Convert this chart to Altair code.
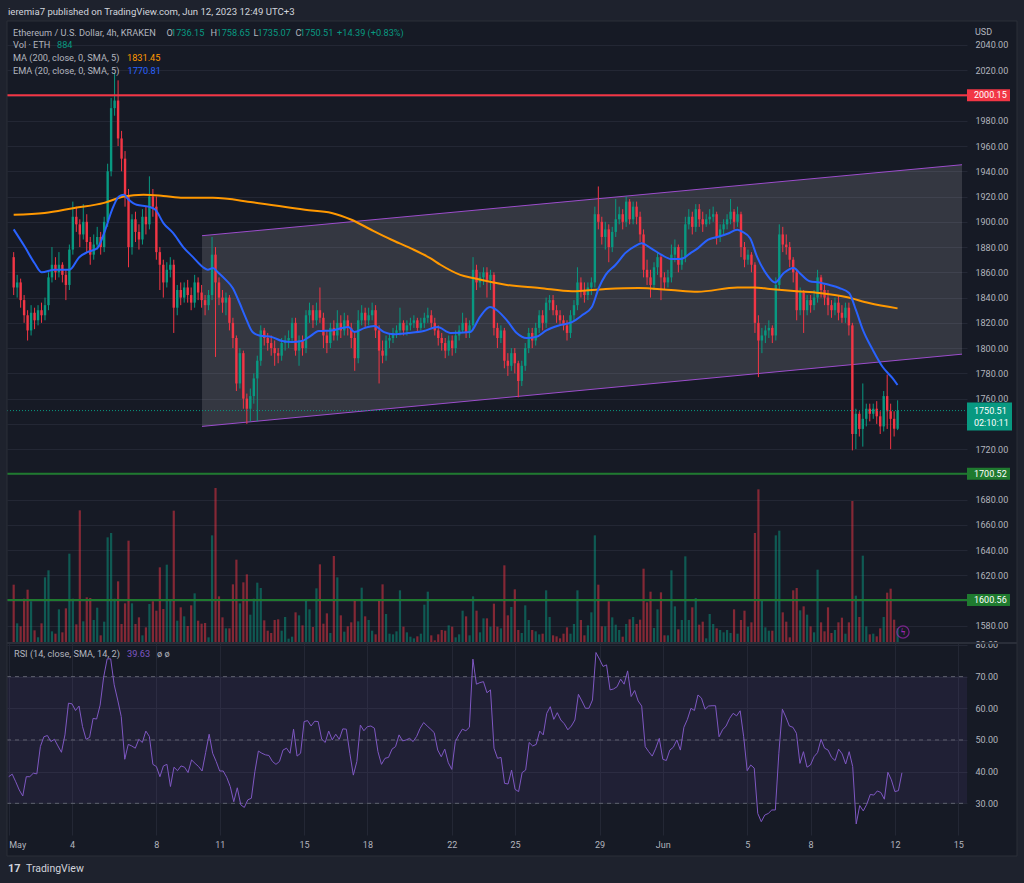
import altair as alt
import pandas as pd

# ---------------- data ----------------
first_open = 1872.0
close = [
    1848, 1852, 1838, 1826, 1814, 1828, 1822, 1830, 1826, 1834,
    1856, 1866, 1860, 1866, 1858, 1850, 1878, 1904, 1898, 1890,
    1900, 1884, 1874, 1882, 1888, 1880, 1900, 1940, 1990, 1996,
    1966, 1950, 1920, 1880, 1902, 1892, 1886, 1904, 1898, 1920,
    1912, 1876, 1866, 1852, 1862, 1866, 1832, 1846, 1840, 1848,
    1842, 1836, 1852, 1844, 1838, 1834, 1842, 1874, 1852, 1840,
    1836, 1840, 1820, 1808, 1772, 1796, 1760, 1752, 1762, 1776,
    1790, 1814, 1808, 1804, 1800, 1796, 1794, 1804, 1806, 1808,
    1820, 1798, 1806, 1800, 1826, 1830, 1822, 1830, 1824, 1810,
    1804, 1816, 1810, 1820, 1814, 1822, 1816, 1808, 1792, 1822,
    1828, 1822, 1826, 1830, 1814, 1798, 1794, 1806, 1808, 1812,
    1814, 1820, 1814, 1818, 1820, 1822, 1816, 1820, 1824, 1826,
    1820, 1814, 1808, 1804, 1798, 1806, 1800, 1810, 1814, 1820,
    1812, 1818, 1862, 1852, 1856, 1860, 1854, 1858, 1816, 1808,
    1814, 1790, 1786, 1796, 1788, 1774, 1786, 1800, 1812, 1806,
    1816, 1826, 1820, 1836, 1838, 1830, 1826, 1822, 1818, 1812,
    1826, 1834, 1852, 1846, 1842, 1848, 1852, 1906, 1900, 1888,
    1894, 1880, 1892, 1902, 1906, 1900, 1916, 1902, 1912, 1904,
    1890, 1862, 1856, 1850, 1864, 1872, 1856, 1852, 1856, 1874,
    1880, 1866, 1872, 1898, 1904, 1896, 1910, 1902, 1898, 1902,
    1904, 1906, 1888, 1894, 1898, 1902, 1908, 1900, 1906, 1880,
    1870, 1874, 1866, 1820, 1806, 1810, 1814, 1816, 1810, 1850,
    1890, 1882, 1880, 1870, 1860, 1830, 1844, 1830, 1838, 1834,
    1840, 1856, 1846, 1840, 1834, 1830, 1836, 1828, 1824, 1832,
    1818, 1732, 1748, 1736, 1744, 1752, 1748, 1752, 1746, 1738,
    1762, 1750, 1744, 1736.15, 1750.51,
]
high = [
    1876, 1858, 1855, 1842, 1830, 1834, 1832, 1834, 1836, 1840,
    1860, 1880, 1872, 1876, 1868, 1862, 1882, 1916, 1912, 1902,
    1914, 1906, 1888, 1890, 1896, 1892, 1904, 1946, 1998, 2018,
    2012, 1972, 1956, 1926, 1906, 1908, 1898, 1910, 1912, 1936,
    1926, 1920, 1880, 1870, 1868, 1872, 1870, 1850, 1852, 1852,
    1854, 1848, 1858, 1856, 1850, 1842, 1846, 1888, 1880, 1856,
    1846, 1844, 1842, 1824, 1810, 1800, 1798, 1764, 1768, 1780,
    1794, 1818, 1816, 1812, 1810, 1806, 1800, 1808, 1810, 1814,
    1824, 1824, 1810, 1810, 1830, 1836, 1834, 1836, 1848, 1828,
    1814, 1820, 1822, 1830, 1826, 1828, 1826, 1820, 1812, 1830,
    1834, 1832, 1832, 1836, 1834, 1818, 1806, 1810, 1812, 1816,
    1818, 1832, 1822, 1822, 1824, 1826, 1824, 1824, 1828, 1832,
    1830, 1824, 1818, 1812, 1808, 1810, 1810, 1814, 1818, 1828,
    1824, 1822, 1872, 1866, 1860, 1864, 1864, 1862, 1860, 1820,
    1818, 1816, 1796, 1800, 1800, 1790, 1790, 1804, 1816, 1816,
    1820, 1830, 1830, 1840, 1842, 1842, 1834, 1830, 1826, 1822,
    1830, 1838, 1864, 1856, 1852, 1852, 1856, 1912, 1928, 1904,
    1900, 1898, 1896, 1918, 1912, 1910, 1920, 1918, 1916, 1916,
    1908, 1894, 1870, 1862, 1868, 1876, 1874, 1860, 1862, 1882,
    1886, 1882, 1878, 1904, 1910, 1908, 1914, 1914, 1908, 1906,
    1910, 1912, 1908, 1898, 1902, 1906, 1918, 1910, 1912, 1908,
    1884, 1878, 1876, 1868, 1826, 1816, 1818, 1822, 1818, 1856,
    1898, 1896, 1890, 1884, 1872, 1862, 1848, 1846, 1842, 1842,
    1846, 1862, 1858, 1850, 1846, 1838, 1840, 1842, 1834, 1836,
    1836, 1820, 1752, 1750, 1772, 1756, 1756, 1756, 1758, 1750,
    1766, 1779, 1756, 1750, 1758.65,
]
low = [
    1842, 1840, 1832, 1820, 1806, 1810, 1815, 1818, 1820, 1822,
    1830, 1852, 1854, 1856, 1852, 1838, 1846, 1874, 1892, 1880,
    1886, 1876, 1866, 1870, 1878, 1874, 1876, 1896, 1936, 1984,
    1960, 1940, 1912, 1864, 1874, 1884, 1878, 1882, 1890, 1894,
    1904, 1870, 1846, 1840, 1848, 1856, 1812, 1826, 1834, 1836,
    1836, 1830, 1832, 1838, 1832, 1826, 1830, 1838, 1793, 1834,
    1828, 1826, 1814, 1800, 1766, 1768, 1752, 1740, 1742, 1756,
    1742, 1786, 1802, 1798, 1794, 1786, 1788, 1790, 1798, 1800,
    1804, 1794, 1786, 1794, 1796, 1820, 1816, 1818, 1820, 1800,
    1796, 1800, 1806, 1806, 1808, 1810, 1810, 1800, 1782, 1788,
    1818, 1816, 1818, 1822, 1808, 1772, 1788, 1790, 1800, 1804,
    1808, 1810, 1810, 1810, 1814, 1816, 1812, 1814, 1816, 1820,
    1816, 1810, 1802, 1798, 1792, 1794, 1794, 1796, 1806, 1812,
    1808, 1808, 1814, 1846, 1848, 1850, 1840, 1846, 1810, 1800,
    1804, 1784, 1778, 1782, 1780, 1761, 1770, 1782, 1796, 1800,
    1802, 1812, 1814, 1816, 1830, 1826, 1820, 1818, 1814, 1806,
    1808, 1822, 1830, 1840, 1836, 1838, 1842, 1848, 1894, 1882,
    1878, 1868, 1876, 1888, 1898, 1894, 1896, 1898, 1898, 1898,
    1884, 1856, 1850, 1840, 1846, 1858, 1838, 1846, 1848, 1852,
    1868, 1860, 1862, 1868, 1894, 1890, 1892, 1896, 1892, 1896,
    1898, 1900, 1882, 1884, 1890, 1894, 1898, 1894, 1896, 1872,
    1864, 1866, 1860, 1812, 1777, 1796, 1804, 1808, 1804, 1806,
    1846, 1876, 1874, 1864, 1852, 1822, 1826, 1812, 1826, 1828,
    1830, 1836, 1840, 1834, 1826, 1824, 1826, 1822, 1820, 1820,
    1810, 1719, 1720, 1730, 1722, 1738, 1742, 1744, 1740, 1732,
    1734, 1736, 1720, 1730, 1735.07,
]
volume = [
    3500, 1180, 1000, 2660, 3200, 2500, 760, 340, 1180, 3940,
    4360, 700, 560, 2020, 640, 2080, 5360, 2660, 1120, 7960,
    1300, 2740, 2700, 1380, 2120, 460, 1280, 6340, 6600, 2660,
    3700, 1140, 2380, 6140, 2380, 1140, 1540, 460, 940, 2340,
    2500, 1940, 4540, 2040, 4700, 2600, 7940, 1340, 2140, 1600,
    1020, 2260, 2980, 1340, 1160, 1200, 340, 6460, 9300, 2800,
    1540, 880, 880, 3520, 5000, 2380, 3640, 4120, 1700, 2660,
    3620, 3300, 1360, 740, 600, 1380, 1420, 740, 1560, 260,
    380, 1840, 1660, 1060, 2520, 2020, 960, 3280, 4720, 1160,
    1780, 600, 5220, 3940, 1660, 680, 1000, 1240, 2520, 1300,
    3320, 1600, 1380, 740, 520, 2560, 3520, 1740, 560, 520,
    700, 3160, 980, 640, 380, 280, 400, 560, 2300, 3080,
    460, 160, 520, 780, 740, 1060, 980, 340, 520, 1940,
    1600, 460, 2800, 1940, 640, 1480, 1480, 980, 2360, 980,
    880, 4660, 1660, 2160, 3220, 780, 600, 2260, 1380, 780,
    700, 520, 560, 3160, 1560, 460, 400, 280, 560, 940,
    560, 1140, 3160, 1380, 460, 1060, 1840, 6460, 3500, 1000,
    1000, 2500, 1540, 1100, 780, 380, 1140, 1420, 1560, 1140,
    1400, 4460, 2440, 3080, 900, 2020, 3040, 460, 460, 4360,
    2200, 820, 1380, 5200, 1380, 2140, 2700, 1100, 1280, 280,
    1740, 1140, 880, 780, 640, 780, 600, 2020, 560, 1380,
    1940, 980, 1240, 6600, 9220, 2520, 940, 740, 740, 6460,
    6740, 1840, 1280, 340, 3160, 3300, 1960, 2200, 1700, 1000,
    640, 4400, 1240, 700, 2140, 600, 780, 1240, 1520, 560,
    1240, 8520, 2840, 1560, 5240, 1000, 520, 560, 400, 880,
    1560, 3020, 3260, 1400, 884,
]
rsi = [
    38.4, 39.2, 36.8, 34.2, 32.3, 38.4, 38.4, 39.5, 39.3, 47.9,
    51.0, 51.4, 49.5, 50.2, 48.1, 46.1, 51.6, 61.6, 61.4, 59.3,
    60.7, 54.2, 50.2, 50.8, 56.8, 56.6, 61.0, 69.8, 75.6, 75.6,
    67.4, 62.6, 57.4, 43.9, 48.6, 48.1, 47.4, 50.2, 49.2, 52.8,
    51.1, 42.3, 41.6, 38.4, 41.8, 42.3, 35.3, 41.4, 40.3, 41.8,
    41.4, 39.7, 43.7, 42.6, 41.6, 40.2, 46.0, 51.8, 45.8, 43.2,
    40.2, 40.2, 38.2, 35.3, 30.5, 34.9, 29.5, 28.7, 31.1, 31.6,
    40.0, 46.5, 45.8, 45.3, 45.1, 43.2, 42.3, 43.2, 46.8, 47.4,
    45.8, 53.4, 44.9, 45.8, 55.8, 56.1, 54.4, 55.9, 55.8, 50.3,
    49.2, 52.8, 50.0, 51.8, 50.2, 53.5, 53.4, 45.8, 38.9, 43.2,
    54.7, 52.9, 54.2, 54.4, 53.7, 46.3, 42.3, 44.2, 44.5, 47.1,
    47.9, 51.6, 49.7, 50.0, 50.5, 49.5, 51.1, 53.7, 55.5, 54.4,
    53.4, 52.3, 46.8, 44.7, 47.1, 42.8, 40.7, 49.5, 51.6, 53.4,
    52.9, 54.0, 75.5, 67.6, 68.1, 68.4, 64.9, 65.8, 47.4, 44.2,
    44.5, 36.3, 36.1, 40.5, 34.4, 33.7, 39.7, 40.5, 49.2, 48.1,
    48.6, 52.8, 51.6, 58.4, 60.5, 56.5, 58.6, 56.3, 55.1, 53.2,
    54.4, 56.3, 64.4, 62.3, 60.0, 60.0, 62.6, 77.6, 75.5, 73.2,
    73.7, 65.8, 66.1, 66.8, 69.2, 67.6, 71.8, 63.7, 65.6, 62.3,
    60.7, 47.9, 46.3, 44.9, 47.4, 50.5, 43.9, 43.5, 46.8, 47.7,
    50.0, 46.8, 54.0, 56.5, 60.0, 59.3, 64.2, 63.2, 59.7, 60.7,
    60.8, 60.8, 51.0, 53.2, 54.4, 56.8, 58.4, 57.6, 59.2, 51.0,
    40.3, 42.1, 41.1, 26.8, 24.2, 26.3, 26.8, 27.9, 27.9, 45.8,
    59.7, 57.2, 54.4, 54.0, 52.1, 42.6, 46.3, 41.4, 42.1, 44.7,
    46.0, 50.2, 47.4, 46.8, 44.5, 43.5, 47.1, 45.6, 42.4, 46.3,
    41.6, 23.5, 29.3, 27.6, 29.7, 32.8, 32.6, 33.9, 33.4, 31.3,
    39.8, 37.4, 33.7, 34.0, 39.63,
]

ma200_day = [0.0, 1.48, 2.9, 4.33, 5.27, 6.22, 7.17, 8.12, 9.54, 11.44, 13.95,
             15.23, 16.18, 17.12, 18.07, 19.02, 19.97, 20.44, 21.39, 22.0, 23.62,
             25.18, 26.74, 28.35, 29.92, 31.48, 32.76, 34.66, 35.46, 36.22, 37.5,
             38.59, 39.87, 40.96, 42.33]
ma200_val = [1905.6, 1907.0, 1911.0, 1915.0, 1920.0, 1921.5, 1920.5, 1919.0, 1919.0,
             1915.5, 1909.5, 1907.0, 1901.6, 1893.7, 1886.0, 1879.0, 1871.0, 1866.0,
             1858.0, 1855.5, 1850.0, 1847.6, 1845.0, 1846.8, 1847.6, 1846.0, 1844.6,
             1848.0, 1848.0, 1846.8, 1845.0, 1843.6, 1840.5, 1835.7, 1831.45]

ema20_day = [0.0, 0.54, 1.01, 1.34, 1.96, 2.67, 3.14, 3.53, 4.0, 4.33, 4.71, 5.04,
             5.27, 5.51, 5.89, 6.46, 6.79, 7.17, 7.64, 8.12, 8.59, 9.07, 9.3, 9.54,
             9.78, 10.16, 10.49, 10.82, 11.1, 11.44, 11.77, 12.38, 12.86, 13.33, 13.8,
             14.14, 14.61, 15.23, 16.03, 16.32, 16.79, 17.27, 17.74, 18.21, 18.88,
             19.64, 20.3, 20.92, 21.86, 22.34, 22.81, 23.14, 23.62, 24.09, 24.56,
             25.04, 25.51, 26.13, 26.74, 27.22, 27.69, 28.02, 28.35, 28.83, 29.3,
             29.78, 30.06, 30.53, 31.01, 31.48, 31.96, 32.43, 32.76, 33.24, 33.71,
             34.18, 34.66, 34.9, 35.27, 35.61, 36.08, 36.46, 36.88, 37.36, 37.64,
             38.12, 38.59, 39.07, 39.54, 40.01, 40.34, 40.68, 41.15, 41.62, 42.1, 42.33]
ema20_val = [1894, 1880, 1867, 1860, 1862, 1862, 1872, 1876, 1879, 1891, 1909.5, 1920,
             1921.4, 1917.5, 1913.5, 1912, 1909.5, 1899, 1891, 1880, 1872, 1864, 1862,
             1863.5, 1860, 1854, 1847.6, 1835.7, 1824.6, 1812.7, 1810, 1808.7, 1805.6,
             1804.8, 1805.6, 1808.7, 1813.5, 1814, 1816.7, 1812.7, 1815.8, 1817.5,
             1812.7, 1811, 1811.9, 1813.5, 1816.7, 1812, 1812.7, 1825, 1832.5, 1830,
             1822, 1812, 1808, 1809, 1814, 1818, 1820.6, 1826, 1832.5, 1847.6, 1858,
             1866, 1875.4, 1881, 1883, 1879, 1874, 1870.6, 1870.6, 1875.4, 1879,
             1885.7, 1888, 1890.5, 1893.7, 1892, 1887, 1872, 1858, 1852, 1859.5,
             1863.5, 1859.5, 1853, 1852, 1850, 1847.6, 1843.6, 1830, 1814, 1798.4,
             1785, 1776, 1770.81]

tick_days = [0, 3, 7, 10, 14, 17, 21, 24, 28, 31, 35, 38, 42, 45]
tick_labels = ["May", "4", "8", "11", "15", "18", "22", "25", "29", "Jun", "5", "8", "12", "15"]

level_prices = [2000.15, 1700.52, 1600.56]
level_colors = ["#f23645", "#1f7a2f", "#1f7a2f"]
last_price = 1750.51
countdown = "02:10:11"

channel_day = [9.02, 45.417]
channel_top = [1889.0, 1945.2]
channel_bottom = [1738.0, 1795.2]

rsi_levels = [70, 50, 30]
rsi_ticks = [30, 40, 50, 60, 70, 80]

# ---------------- styling ----------------
FONT = "Roboto"
UP, DOWN = "#089981", "#f23645"
BG, OUTER = "#161a25", "#1e222d"
GRID = "#232734"
TXT = "#b2b5be"
W, H_HEAD, H_PRICE, H_RSI = 960, 21, 622, 192
X_DOMAIN = [-0.0806, 45.417]
P_DOMAIN = [1566.5, 2059.0]
R_DOMAIN = [20.0, 80.6]
V_DOMAIN = [0, 37320]

ONE = pd.DataFrame({"k": [0]})

n = len(close)
opens = [first_open] + close[:-1]
df = pd.DataFrame({"day": [i / 6 for i in range(n)], "open": opens, "high": high,
                   "low": low, "close": close, "vol": volume, "rsi": rsi})
df["ccol"] = [UP if c >= o else DOWN for o, c in zip(df["open"], df["close"])]
df["b0"] = df[["open", "close"]].min(axis=1)
df["b1"] = df[["open", "close"]].max(axis=1)
df["b1"] = df[["b1", "b0"]].apply(lambda r: max(r["b1"], r["b0"] + 0.8), axis=1)

xs = alt.Scale(domain=X_DOMAIN, nice=False, zero=False)
ps = alt.Scale(domain=P_DOMAIN, nice=False, zero=False)
rs = alt.Scale(domain=R_DOMAIN, nice=False, zero=False)


def txt(s, x, y, color=TXT, size=9.2, align="left", weight="normal", dy=0):
    return alt.Chart(ONE).mark_text(text=s, align=align, baseline="middle", color=color,
                                    fontSize=size, font=FONT, fontWeight=weight, dy=dy
                                    ).encode(x=alt.value(x), y=alt.value(y))


def box(x0, x1, y0, y1, fill, **kw):
    return alt.Chart(ONE).mark_rect(fill=fill, **kw).encode(
        x=alt.value(x0), x2=alt.value(x1), y=alt.value(y0), y2=alt.value(y1))


# ---------------- header panel ----------------
header = alt.layer(
    box(-7, 1017, 0, H_HEAD, OUTER),
    txt("ieremia7 published on TradingView.com, Jun 12, 2023 12:49 UTC+3", 1, 12,
        color="#d1d4dc", size=9.6),
).properties(width=W, height=H_HEAD)

# ---------------- price panel ----------------
hidden = "[1600, 1700, 1740, 2000]"
price_axis = alt.Axis(orient="right", values=list(range(1580, 2041, 20)),
                      labelExpr=f"indexof({hidden}, datum.value) >= 0 ? '' : format(datum.value, '.2f')",
                      grid=True, gridColor=GRID, ticks=False, domain=False, title=None,
                      labelColor=TXT, labelFont=FONT, labelFontSize=9, labelPadding=8)
x_grid = alt.Axis(values=tick_days, grid=True, gridColor=GRID, labels=False, ticks=False,
                  domain=False, title=None)

ch = pd.DataFrame({"day": channel_day, "top": channel_top, "bot": channel_bottom})
channel_fill = alt.Chart(ch).mark_area(color="#ffffff", opacity=0.13).encode(
    x=alt.X("day:Q", scale=xs, axis=x_grid),
    y=alt.Y("top:Q", scale=ps, axis=None), y2="bot:Q")
channel_top_line = alt.Chart(ch).mark_line(color="#9c4dcc", strokeWidth=1).encode(
    x=alt.X("day:Q", scale=xs, axis=None), y=alt.Y("top:Q", scale=ps, axis=None))
channel_bot_line = alt.Chart(ch).mark_line(color="#9c4dcc", strokeWidth=1).encode(
    x=alt.X("day:Q", scale=xs, axis=None), y=alt.Y("bot:Q", scale=ps, axis=None))

vol_bars = alt.Chart(df).mark_bar(size=2.2, opacity=0.5).encode(
    x=alt.X("day:Q", scale=xs, axis=None),
    y=alt.Y("vol:Q", scale=alt.Scale(domain=V_DOMAIN), axis=None),
    color=alt.Color("ccol:N", scale=None))

wicks = alt.Chart(df).mark_rule(strokeWidth=1).encode(
    x=alt.X("day:Q", scale=xs, axis=None),
    y=alt.Y("low:Q", scale=ps, axis=price_axis), y2="high:Q",
    color=alt.Color("ccol:N", scale=None))
bodies = alt.Chart(df).mark_bar(size=2.4).encode(
    x=alt.X("day:Q", scale=xs, axis=None),
    y=alt.Y("b0:Q", scale=ps, axis=None), y2="b1:Q",
    color=alt.Color("ccol:N", scale=None))

ma_df = pd.DataFrame({"day": ma200_day, "v": ma200_val})
ema_df = pd.DataFrame({"day": ema20_day, "v": ema20_val})
ma_line = alt.Chart(ma_df).mark_line(color="#ff9800", strokeWidth=2, interpolate="monotone").encode(
    x=alt.X("day:Q", scale=xs, axis=None), y=alt.Y("v:Q", scale=ps, axis=None))
ema_line = alt.Chart(ema_df).mark_line(color="#2962ff", strokeWidth=2, interpolate="monotone").encode(
    x=alt.X("day:Q", scale=xs, axis=None), y=alt.Y("v:Q", scale=ps, axis=None))

lv = pd.DataFrame({"p": level_prices, "c": level_colors,
                   "lo": [p - 4.75 for p in level_prices], "hi": [p + 4.75 for p in level_prices],
                   "s": [f"{p:.2f}" for p in level_prices]})
level_rules = alt.Chart(lv).mark_rule(strokeWidth=2).encode(
    y=alt.Y("p:Q", scale=ps, axis=None), x=alt.value(0), x2=alt.value(W),
    color=alt.Color("c:N", scale=None))
level_boxes = alt.Chart(lv).mark_rect().encode(
    y=alt.Y("hi:Q", scale=ps, axis=None), y2="lo:Q", x=alt.value(960), x2=alt.value(1003),
    color=alt.Color("c:N", scale=None))
level_text = alt.Chart(lv).mark_text(align="left", baseline="middle", color="#ffffff",
                                     fontSize=9, font=FONT).encode(
    y=alt.Y("p:Q", scale=ps, axis=None), x=alt.value(967), text="s:N")

lp = pd.DataFrame({"p": [last_price], "hi": [last_price + 6.4], "lo": [last_price - 15.8],
                   "s": [f"{last_price:.2f}"], "cd": [countdown]})
last_rule = alt.Chart(lp).mark_rule(color=UP, strokeWidth=1, strokeDash=[1, 2]).encode(
    y=alt.Y("p:Q", scale=ps, axis=None), x=alt.value(0), x2=alt.value(W))
last_box = alt.Chart(lp).mark_rect(color=UP).encode(
    y=alt.Y("hi:Q", scale=ps, axis=None), y2="lo:Q", x=alt.value(960), x2=alt.value(1005))
last_text = alt.Chart(lp).mark_text(align="left", baseline="middle", color="#ffffff",
                                    fontSize=9, font=FONT).encode(
    y=alt.Y("p:Q", scale=ps, axis=None), x=alt.value(967), text="s:N")
last_cd = alt.Chart(lp).mark_text(align="left", baseline="middle", color="#ffffff",
                                  fontSize=9, font=FONT, dy=12).encode(
    y=alt.Y("p:Q", scale=ps, axis=None), x=alt.value(967), text="cd:N")

legend_price = [
    txt("Ethereum / U.S. Dollar, 4h, KRAKEN", 6, 11.5),
    txt("O", 159.5, 11.5), txt("1736.15", 164, 11.5, color=UP),
    txt("H", 203.5, 11.5), txt("1758.65", 209.5, 11.5, color=UP),
    txt("L", 246.5, 11.5), txt("1735.07", 250.5, 11.5, color=UP),
    txt("C", 288.5, 11.5), txt("1750.51", 293, 11.5, color=UP),
    txt("+14.39 (+0.83%)", 330, 11.5, color=UP),
    txt("Vol · ETH", 6, 24), txt("884", 50, 24, color=UP),
    txt("MA (200, close, 0, SMA, 5)", 6, 37), txt("1831.45", 120, 37, color="#ff9800"),
    txt("EMA (20, close, 0, SMA, 5)", 6, 50), txt("1770.81", 120.5, 50, color="#2962ff"),
    txt("USD", 968, 11, size=9),
]

bolt_ring = alt.Chart(ONE).mark_point(shape="circle", size=150, filled=False,
                                      color="#9c27b0", strokeWidth=1.3).encode(
    x=alt.value(896), y=alt.value(611))
bolt = txt("ϟ", 896, 611, color="#9c27b0", size=10, align="center", weight="bold")

price = alt.layer(
    channel_fill, vol_bars, channel_top_line, channel_bot_line,
    wicks, bodies, ma_line, ema_line,
    level_rules, last_rule, level_boxes, level_text, last_box, last_text, last_cd,
    *legend_price, bolt_ring, bolt,
    box(-7, 0, 0, H_PRICE, OUTER), box(1010, 1017, 0, H_PRICE, OUTER),
).resolve_scale(y="independent").properties(width=W, height=H_PRICE)

# ---------------- RSI panel ----------------
labels_js = "[" + ",".join(f"'{s}'" for s in tick_labels) + "]"
days_js = "[" + ",".join(str(d) for d in tick_days) + "]"
x_axis = alt.Axis(values=tick_days, labelExpr=f"{labels_js}[indexof({days_js}, datum.value)]",
                  grid=True, gridColor=GRID, ticks=False, domain=False, title=None,
                  labelColor=TXT, labelFont=FONT, labelFontSize=9, labelPadding=5, labelFlush=3)
r_axis = alt.Axis(orient="right", values=rsi_ticks,
                  labelExpr="format(datum.value, '.2f')", grid=True, gridColor=GRID,
                  ticks=False, domain=False, title=None, labelColor=TXT, labelFont=FONT,
                  labelFontSize=9, labelPadding=8)

band = alt.Chart(pd.DataFrame({"hi": [max(rsi_levels)], "lo": [min(rsi_levels)]})).mark_rect(
    color="#7e57c2", opacity=0.1).encode(
    y=alt.Y("hi:Q", scale=rs, axis=r_axis), y2="lo:Q", x=alt.value(0), x2=alt.value(W))
dashes = alt.Chart(pd.DataFrame({"hi": rsi_levels})).mark_rule(
    color="#787b86", strokeDash=[4, 4], opacity=0.7).encode(
    y=alt.Y("hi:Q", scale=rs, axis=r_axis), x=alt.value(0), x2=alt.value(W))
rsi_line = alt.Chart(df).mark_line(color="#7e57c2", strokeWidth=1).encode(
    x=alt.X("day:Q", scale=xs, axis=x_axis), y=alt.Y("rsi:Q", scale=rs, axis=r_axis))

rsi_panel = alt.layer(
    band, dashes, rsi_line,
    txt("RSI (14, close, SMA, 14, 2)", 7, 11), txt("39.63", 120, 11, color="#7e57c2"),
    txt("ø  ø", 150, 11),
    alt.Chart(ONE).mark_rule(color="#2a2e39", strokeWidth=2).encode(
        x=alt.value(0), x2=alt.value(1010), y=alt.value(0)),
    box(-7, 0, 0, 240, OUTER), box(1010, 1017, 0, 240, OUTER),
    box(-7, 1017, 213, 240, OUTER),
    box(0, 1010, -622, 213, "#000000", fillOpacity=0, stroke="#2a2e39", strokeWidth=1),
    txt("17", 1, 226, color="#d1d4dc", size=11, weight="bold"),
    txt("TradingView", 19, 226, color="#d1d4dc", size=10.5),
).properties(width=W, height=H_RSI)

chart = alt.vconcat(header, price, rsi_panel, spacing=0, bounds="flush").properties(
    padding={"left": 0, "top": 0, "right": 0, "bottom": 0}, background=BG
).configure_view(strokeWidth=0)

chart.save("out.html", embed_options={"renderer": "svg", "actions": False})
